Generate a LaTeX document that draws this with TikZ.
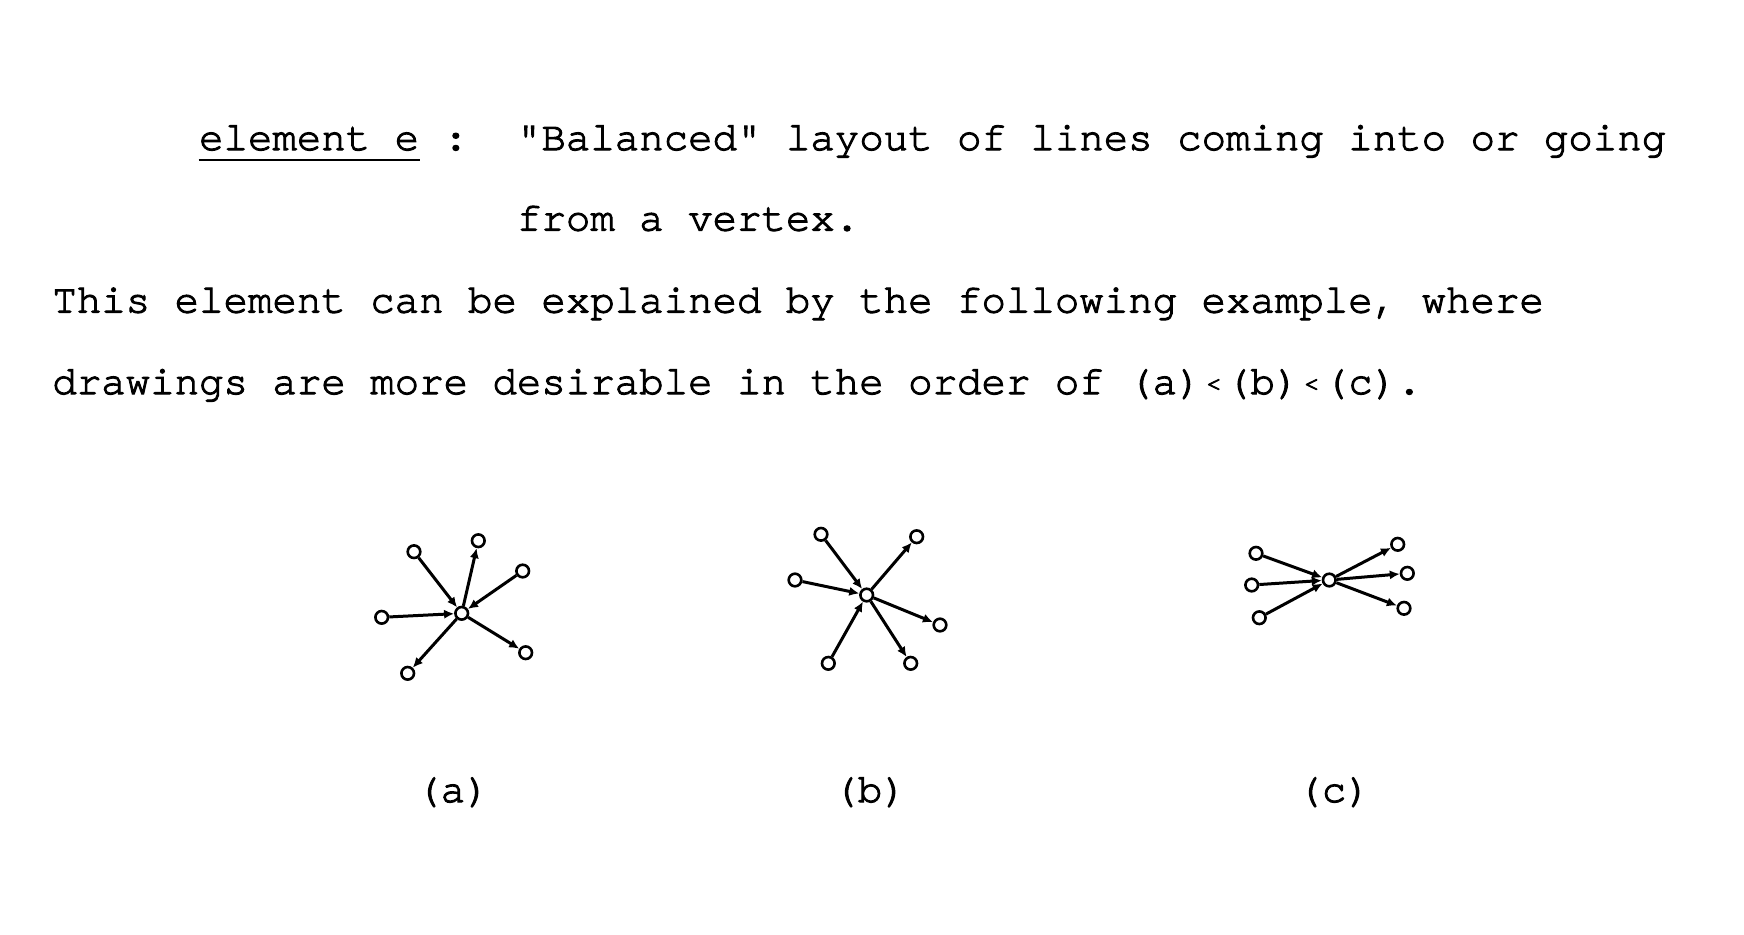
\documentclass[tikz,border=0pt]{standalone}
\usepackage{fontspec}
\newfontfamily\typew{texgyrecursor-regular.otf}[RawFeature={embolden=2.5}]
\usetikzlibrary{arrows.meta}
\newcommand\smlt{\makebox[0.6em]{\raisebox{0.06em}{\fontsize{14}{14}\selectfont<}}}
\begin{document}
\begin{tikzpicture}[x=0.5pt,y=-0.5pt,
  txt/.style={inner sep=0pt, anchor=base west, font=\typew\fontsize{20.375}{24}\selectfont},
  lab/.style={inner sep=0pt, anchor=base, font=\typew\fontsize{20.375}{24}\selectfont},
  vtx/.style={circle, draw, fill=white, line width=1.3pt, minimum size=6.3pt, inner sep=0pt},
  edge/.style={line width=1.5pt, -{Latex[length=5pt,width=4.6pt]}}]
\useasboundingbox[fill=white] (0,0) rectangle (1744,934);

% ---- text ----
\node[txt] (ele) at (198.7,150) {element e};
\draw[line width=1.1pt] ([yshift=-5pt]ele.base west) -- ([yshift=-5pt]ele.base east);
\node[txt] (colon) at (443.2,150) {:};
\node[txt] (l1) at (516.6,150) {"Balanced" layout of lines coming into or going};
\node[txt] (l2) at (516.6,230.5) {from a vertex.};
\node[txt] (l3) at (52,312.5) {This element can be explained by the following example, where};
\node[txt] (l4) at (52,394) {drawings are more desirable in the order of (a)\smlt(b)\smlt(c).};

% ---- graph (a) ----
\node[vtx] (ac) at (461.7,613.3) {};
\node[vtx] (a1) at (414,551.7) {};
\node[vtx] (a2) at (478.3,540.7) {};
\node[vtx] (a3) at (522.7,571) {};
\node[vtx] (a4) at (381.7,617.3) {};
\node[vtx] (a5) at (407.7,673.3) {};
\node[vtx] (a6) at (525.7,652.7) {};
\draw[edge] (a1) -- (ac);
\draw[edge] (ac) -- (a2);
\draw[edge] (a3) -- (ac);
\draw[edge] (a4) -- (ac);
\draw[edge] (ac) -- (a5);
\draw[edge] (ac) -- (a6);
\node[lab] (la) at (453,802) {(a)};

% ---- graph (b) ----
\node[vtx] (bc) at (866.7,595) {};
\node[vtx] (b1) at (821,534.3) {};
\node[vtx] (b2) at (916.7,536.7) {};
\node[vtx] (b3) at (795,580) {};
\node[vtx] (b4) at (940,625) {};
\node[vtx] (b5) at (828.3,663.3) {};
\node[vtx] (b6) at (910.7,663.3) {};
\draw[edge] (b1) -- (bc);
\draw[edge] (bc) -- (b2);
\draw[edge] (b3) -- (bc);
\draw[edge] (bc) -- (b4);
\draw[edge] (b5) -- (bc);
\draw[edge] (bc) -- (b6);
\node[lab] (lb) at (870,802) {(b)};

% ---- graph (c) ----
\node[vtx] (cc) at (1329.3,580) {};
\node[vtx] (c1) at (1256,553.3) {};
\node[vtx] (c2) at (1251.7,585) {};
\node[vtx] (c3) at (1259.3,617.7) {};
\node[vtx] (c4) at (1397.7,544.3) {};
\node[vtx] (c5) at (1407.3,573.3) {};
\node[vtx] (c6) at (1404,608.3) {};
\draw[edge] (c1) -- (cc);
\draw[edge] (c2) -- (cc);
\draw[edge] (c3) -- (cc);
\draw[edge] (cc) -- (c4);
\draw[edge] (cc) -- (c5);
\draw[edge] (cc) -- (c6);
\node[lab] (lc) at (1334,802) {(c)};
\end{tikzpicture}
\end{document}
